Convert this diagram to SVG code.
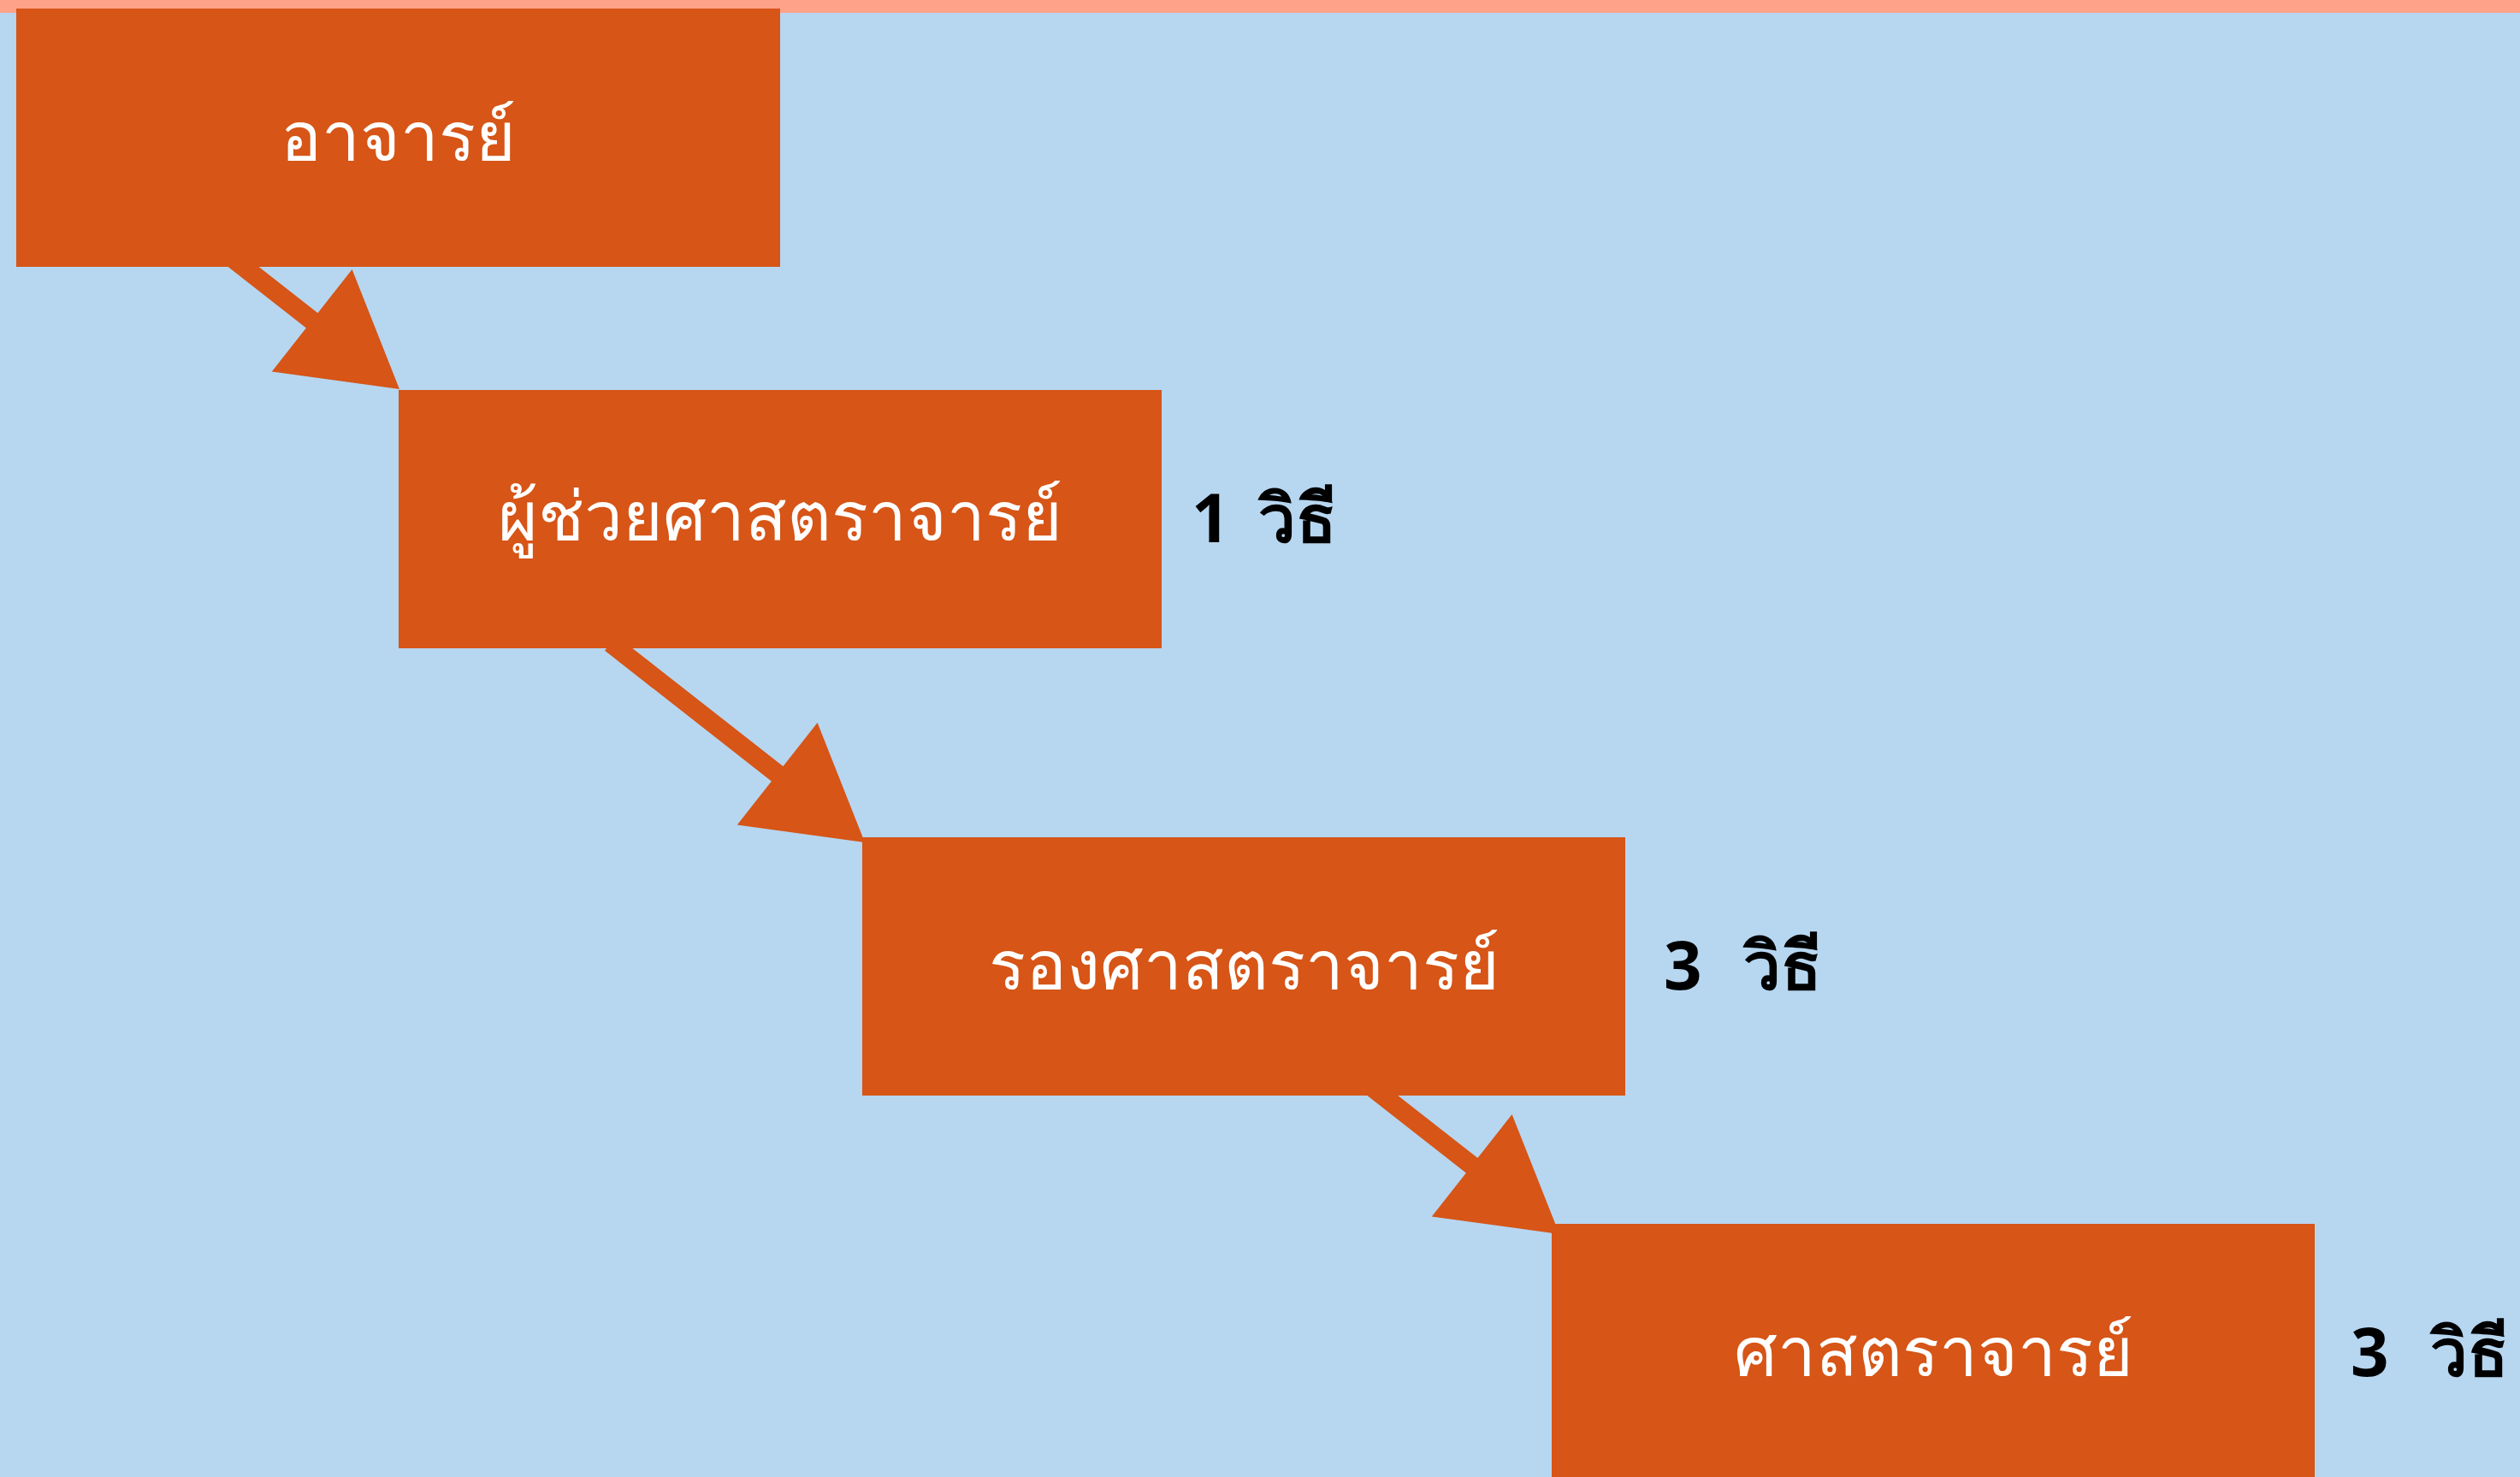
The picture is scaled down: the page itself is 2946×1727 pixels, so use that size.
<svg xmlns="http://www.w3.org/2000/svg" width="2946" height="1727" viewBox="0 0 2946 1727">
<style>
.bg{fill:#B7D6F0}
.top{fill:#FFA28A}
.box{fill:#D65517}
.arrow{fill:#D65517}
.lbl{font-family:"Noto Sans","DejaVu Sans","Liberation Sans",sans-serif;font-size:80px;fill:#FFFFFF;text-anchor:middle}
.note{font-family:"Noto Sans","DejaVu Sans","Liberation Sans",sans-serif;font-size:78px;font-weight:bold;fill:#000000}
</style>
<rect class="bg" x="0" y="0" width="2946" height="1727"/>
<rect class="top" x="0" y="0" width="2946" height="15"/>
<g id="connectors">
<polygon class="arrow" points="276.1,291.3 371.5,366.1 411.6,314.9 467,455 317.8,434.6 357.9,383.5 262.5,308.7"/>
<polygon class="arrow" points="720.6,743.3 915.5,896.1 955.6,845 1011,985 861.8,964.6 901.9,913.5 707,760.7"/>
<polygon class="arrow" points="1609.1,1261.3 1727.5,1354.1 1767.6,1303 1823,1443 1673.8,1422.6 1713.9,1371.5 1595.5,1278.7"/>
</g>
<g id="node1">
<rect class="box" x="19" y="10" width="893" height="302"/>
<text class="lbl" x="465.5" y="188">อาจารย์</text>
</g>
<g id="node2">
<rect class="box" x="466" y="456" width="892" height="302"/>
<text class="lbl" x="912" y="632">ผู้ช่วยศาสตราจารย์</text>
<text class="note" y="634"><tspan x="1393">1 </tspan><tspan x="1471">วิธี</tspan></text>
</g>
<g id="node3">
<rect class="box" x="1008" y="979" width="892" height="302"/>
<text class="lbl" x="1454" y="1157">รองศาสตราจารย์</text>
<text class="note" y="1157"><tspan x="1945">3 </tspan><tspan x="2038">วิธี</tspan></text>
</g>
<g id="node4">
<rect class="box" x="1814" y="1431" width="892" height="302"/>
<text class="lbl" x="2260" y="1609">ศาสตราจารย์</text>
<text class="note" y="1609"><tspan x="2748">3 </tspan><tspan x="2841">วิธี</tspan></text>
</g>
</svg>
